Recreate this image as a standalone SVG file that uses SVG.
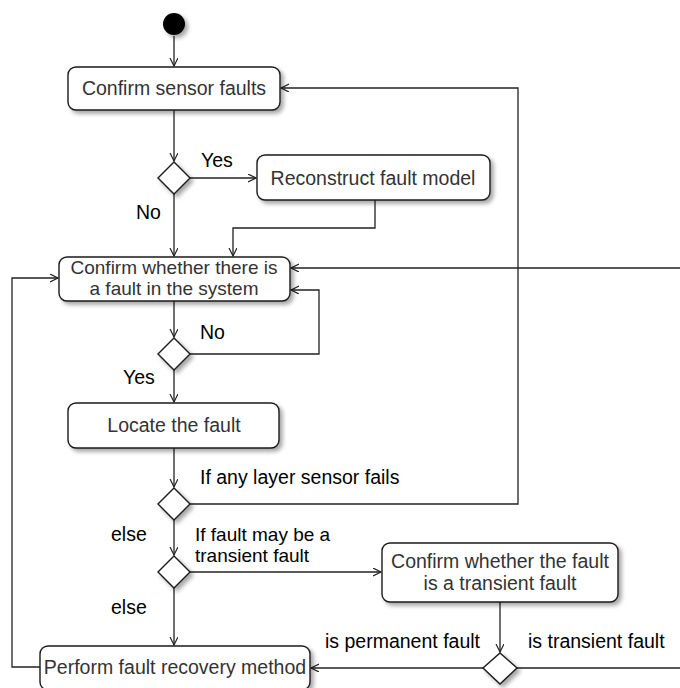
<svg xmlns="http://www.w3.org/2000/svg" width="680" height="688" viewBox="0 0 680 688">
<style>
.box{fill:#fff;stroke:#1a1a1a;stroke-width:1.4;filter:url(#sh)}
.dia{fill:#fff;stroke:#1a1a1a;stroke-width:1.4;filter:url(#sh)}
.bt{font-family:"Liberation Sans",Arial,sans-serif;font-size:19.5px;fill:#333;text-anchor:middle}
.bt2{font-size:19px}
.lb{font-family:"Liberation Sans",Arial,sans-serif;font-size:19.5px;fill:#000}
.ln{fill:none;stroke:#222;stroke-width:1.3;marker-end:url(#ar)}
</style>
<defs>
<filter id="sh" x="-20%" y="-20%" width="150%" height="160%">
<feDropShadow dx="3" dy="3" stdDeviation="2" flood-color="#000" flood-opacity="0.35"/>
</filter>
<marker id="ar" markerWidth="10" markerHeight="10" refX="8" refY="4" orient="auto" markerUnits="userSpaceOnUse">
<path d="M0,0 L8,4 L0,8" fill="none" stroke="#222" stroke-width="1.2"/>
</marker>
</defs>
<g id="connectors">
<path class="ln" d="M174,36 V66"/>
<path class="ln" d="M174,110 V161"/>
<path class="ln" d="M190,178 H256"/>
<path class="ln" d="M174,194 V256"/>
<path class="ln" d="M375,200 V228 H233 V256"/>
<path class="ln" d="M516,668 H692 V268 H291"/>
<path class="ln" d="M174,301 V337"/>
<path class="ln" d="M190,354 H319 V290 H291"/>
<path class="ln" d="M174,370 V402"/>
<path class="ln" d="M40,667 H12 V278 H58"/>
<path class="ln" d="M174,448 V487"/>
<path class="ln" d="M190,504 H518 V88 H281"/>
<path class="ln" d="M174,520 V555"/>
<path class="ln" d="M190,572 H381"/>
<path class="ln" d="M174,588 V645"/>
<path class="ln" d="M500,602 V652"/>
<path class="ln" d="M484,668 H311"/>
</g>
<g id="start"><circle cx="174" cy="24" r="11" fill="#000" filter="url(#sh)"/></g>
<g id="n1"><rect class="box" x="68" y="67" width="212" height="43" rx="8"/><text class="bt" x="174" y="95">Confirm sensor faults</text></g>
<g id="d1"><polygon class="dia" points="174,162 190,178 174,194 158,178"/></g>
<g id="n2"><rect class="box" x="257" y="155" width="233" height="45" rx="8"/><text class="bt" x="373" y="185">Reconstruct fault model</text></g>
<g id="n3"><rect class="box" x="59" y="257" width="231" height="44" rx="8"/><text class="bt bt2" x="174" y="274">Confirm whether there is</text><text class="bt bt2" x="174" y="295">a fault in the system</text></g>
<g id="d2"><polygon class="dia" points="174,338 190,354 174,370 158,354"/></g>
<g id="n4"><rect class="box" x="68" y="403" width="211" height="45" rx="8"/><text class="bt" x="174" y="432">Locate the fault</text></g>
<g id="d3"><polygon class="dia" points="174,488 190,504 174,520 158,504"/></g>
<g id="d4"><polygon class="dia" points="174,556 190,572 174,588 158,572"/></g>
<g id="n5"><rect class="box" x="382" y="543" width="236" height="59" rx="8"/><text class="bt" x="500" y="568">Confirm whether the fault</text><text class="bt" x="500" y="590">is a transient fault</text></g>
<g id="d5"><polygon class="dia" points="500,653 517,668 500,684 483,668"/></g>
<g id="n6"><rect class="box" x="40" y="646" width="270" height="44" rx="8"/><text class="bt" x="175" y="674">Perform fault recovery method</text></g>
<g id="labels">
<text class="lb" x="201" y="167">Yes</text>
<text class="lb" x="136" y="219">No</text>
<text class="lb" x="200" y="339">No</text>
<text class="lb" x="123" y="384">Yes</text>
<text class="lb" x="200" y="484">If any layer sensor fails</text>
<text class="lb" x="111" y="541">else</text>
<text class="lb" x="195" y="541" style="font-size:19px">If fault may be a</text>
<text class="lb" x="195" y="562" style="font-size:19px">transient fault</text>
<text class="lb" x="111" y="614">else</text>
<text class="lb" x="325" y="648">is permanent fault</text>
<text class="lb" x="528" y="648">is transient fault</text>
</g>
</svg>
